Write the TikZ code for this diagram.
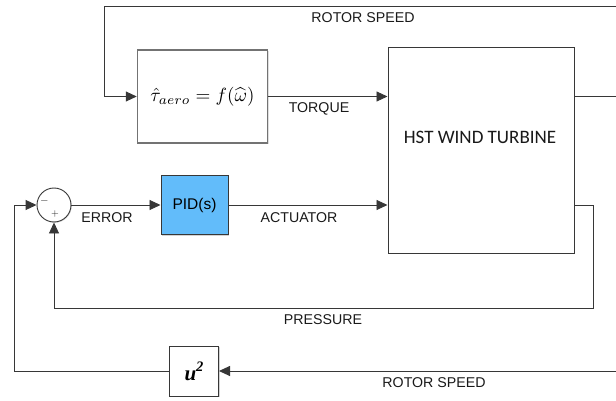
\documentclass[tikz,border=0pt]{standalone}
\usepackage{fontspec}
\usepackage{amsmath}
\usepackage{graphicx}
\setmainfont{Liberation Sans}
\newfontfamily\hstfont{Carlito}
\newfontfamily\serifbi{Liberation Serif}
\usetikzlibrary{arrows.meta,shadows,calc}
\definecolor{lineGray}{RGB}{55,55,55}
\definecolor{boxGray}{RGB}{115,115,115}
\definecolor{pidBlue}{RGB}{98,188,250}
\definecolor{txt}{RGB}{25,25,25}
\tikzset{
  wire/.style={draw=lineGray, line width=0.9pt},
  arr/.style={wire, -{Triangle[length=11pt,width=10pt]}},
  lbl/.style={text=txt, font=\fontsize{14.2}{16}\selectfont, inner sep=0pt},
  blockbox/.style={draw=lineGray, line width=1pt, fill=white, inner sep=0pt,
     drop shadow={shadow xshift=1.2pt, shadow yshift=-1.2pt, opacity=0.35, fill=gray}},
}
\begin{document}
\begin{tikzpicture}[x=1pt,y=-1pt]
\useasboundingbox (0,0) rectangle (616,401);
% blocks
\node[draw=boxGray, line width=1.5pt, fill=white, minimum width=130pt, minimum height=93pt, inner sep=0pt,
      drop shadow={shadow xshift=1pt, shadow yshift=-1pt, opacity=0.25, fill=gray}] (aero) at (202.5,96.5)
      {\resizebox{104pt}{!}{$\hat{\tau}_{aero} = f(\widehat{\omega})$}};
\node[blockbox, minimum width=186pt, minimum height=205pt] (hst) at (481,150.5) {};
\node[text=txt, font=\hstfont\fontsize{19}{22}\selectfont, inner sep=0pt] (hsttxt) at (480,137) {HST WIND TURBINE};
\node[blockbox, fill=pidBlue, minimum width=67pt, minimum height=59pt] (pid) at (194.5,205)
      {\fontsize{15.5}{18}\selectfont PID(s)};
\node[blockbox, minimum width=49pt, minimum height=50pt] (sq) at (194,371)
      {\serifbi\fontsize{21}{24}\selectfont\bfseries\itshape u\raisebox{0.42em}{\fontsize{14.5}{16}\selectfont 2}};
\node[draw=lineGray, line width=0.9pt, circle, minimum size=34pt, inner sep=0pt, fill=white,
      drop shadow={shadow xshift=0.8pt, shadow yshift=-0.8pt, opacity=0.3, fill=gray}] (sum) at (54,205) {};
\node[font=\fontsize{11}{12}\selectfont, inner sep=0pt, text=txt] (minus) at (44.5,200.5) {$-$};
\node[font=\fontsize{10}{12}\selectfont, inner sep=0pt, text=txt] (plus) at (55,213.5) {$+$};
% coordinates at the picture edge
\coordinate (topR) at (616,6);
\coordinate (topL) at (104,6);
\coordinate (outTop) at (616,96.5);
\coordinate (prR) at (593,308);
\coordinate (botR) at (616,371);
\coordinate (lft) at (14,205);
% connectors
\draw[arr] (topR) -- (topL) |- (aero.west);
\draw[arr] (aero.east) -- (aero.east -| hst.west);
\draw[wire] (hst.east |- outTop) -- (outTop);
\draw[arr] (sum.east) -- (pid.west);
\draw[arr] (pid.east) -- (pid.east -| hst.west);
\draw[arr] (hst.east |- sum.east) -| (prR) -| (sum.south);
\draw[arr] (botR) -- (sq.east);
\draw[arr] (sq.west) -| (lft) -- (sum.west);
% labels
\node[lbl] (l1) at (363,18) {ROTOR SPEED};
\node[lbl] (l2) at (319,109) {TORQUE};
\node[lbl] (l3) at (107,218) {ERROR};
\node[lbl] (l4) at (299,218) {ACTUATOR};
\node[lbl] (l5) at (323,320) {PRESSURE};
\node[lbl] (l6) at (434,383) {ROTOR SPEED};
\end{tikzpicture}
\end{document}
